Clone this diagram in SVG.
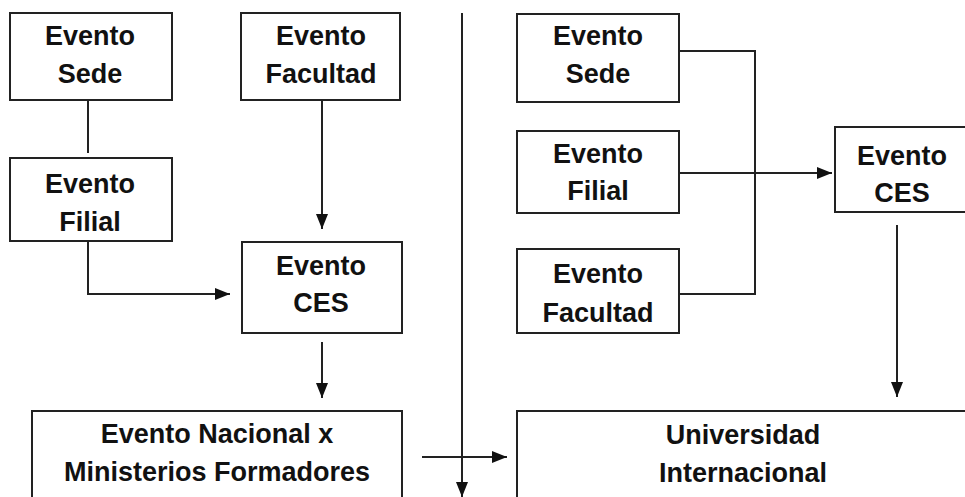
<svg xmlns="http://www.w3.org/2000/svg" width="965" height="497" viewBox="0 0 965 497">
<style>
rect.box{fill:#fff;stroke:#222;stroke-width:2}
text{font-family:"Liberation Sans",Arial,sans-serif;font-weight:bold;font-size:27px;fill:#111;text-anchor:middle}
.c line,.c polyline{stroke:#222;stroke-width:2;fill:none}
</style>
<defs>
<marker id="ah" markerUnits="userSpaceOnUse" markerWidth="16" markerHeight="14" refX="15" refY="7" orient="auto">
<path d="M0,1 L15,7 L0,13 Z" fill="#111"/>
</marker>
</defs>
<rect width="965" height="497" fill="#fff"/>
<g class="c" id="connectors">
<line x1="88" y1="100" x2="88" y2="153"/>
<polyline points="88,241 88,294 230,294" marker-end="url(#ah)"/>
<line x1="322" y1="100" x2="322" y2="229" marker-end="url(#ah)"/>
<line x1="322" y1="342" x2="322" y2="398" marker-end="url(#ah)"/>
<line x1="462" y1="13" x2="462" y2="497" marker-end="url(#ah)"/>
<line x1="422" y1="457" x2="507" y2="457" marker-end="url(#ah)"/>
<polyline points="679,51 755,51 755,294 679,294"/>
<line x1="679" y1="173" x2="832" y2="173" marker-end="url(#ah)"/>
<line x1="897" y1="225" x2="897" y2="397" marker-end="url(#ah)"/>
</g>
<g id="sede-l"><rect class="box" x="10" y="13" width="162" height="87"/><text x="90" y="45">Evento</text><text x="90" y="83">Sede</text></g>
<g id="filial-l"><rect class="box" x="10" y="158" width="162" height="83"/><text x="90" y="193">Evento</text><text x="90" y="231">Filial</text></g>
<g id="facultad-l"><rect class="box" x="241" y="13" width="159" height="87"/><text x="321" y="45">Evento</text><text x="321" y="83">Facultad</text></g>
<g id="ces-l"><rect class="box" x="242" y="242" width="160" height="91"/><text x="321" y="275">Evento</text><text x="321" y="312">CES</text></g>
<g id="nacional"><rect class="box" x="32" y="411" width="370" height="100"/><text x="217" y="443">Evento Nacional x</text><text x="217" y="481">Ministerios Formadores</text></g>
<g id="sede-r"><rect class="box" x="517" y="14" width="162" height="88"/><text x="598" y="45">Evento</text><text x="598" y="83">Sede</text></g>
<g id="filial-r"><rect class="box" x="517" y="131" width="162" height="82"/><text x="598" y="163">Evento</text><text x="598" y="200">Filial</text></g>
<g id="facultad-r"><rect class="box" x="517" y="249" width="162" height="84"/><text x="598" y="283">Evento</text><text x="598" y="322">Facultad</text></g>
<g id="ces-r"><rect class="box" x="835" y="127" width="135" height="85"/><text x="902" y="165">Evento</text><text x="902" y="202">CES</text></g>
<g id="universidad"><rect class="box" x="517" y="411" width="455" height="100"/><text x="743" y="444">Universidad</text><text x="743" y="482">Internacional</text></g>
</svg>
